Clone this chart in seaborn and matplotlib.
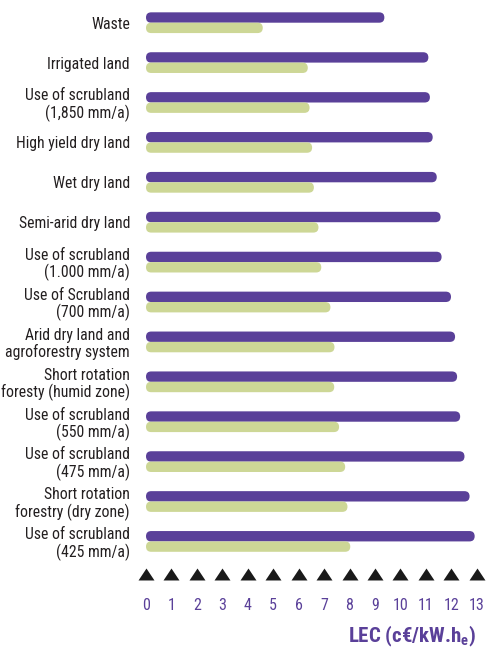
import matplotlib
matplotlib.use("Agg")
import matplotlib.pyplot as plt
from matplotlib.patches import FancyBboxPatch
from matplotlib.path import Path
import pandas as pd
import seaborn as sns

# Land-use scenarios, top to bottom
categories = [
    "Waste",
    "Irrigated land",
    "Use of scrubland\n(1,850 mm/a)",
    "High yield dry land",
    "Wet dry land",
    "Semi-arid dry land",
    "Use of scrubland\n(1.000 mm/a)",
    "Use of Scrubland\n(700 mm/a)",
    "Arid dry land and\nagroforestry system",
    "Short rotation\nforesty (humid zone)",
    "Use of scrubland\n(550 mm/a)",
    "Use of scrubland\n(475 mm/a)",
    "Short rotation\nforestry (dry zone)",
    "Use of scrubland\n(425 mm/a)",
]
# Levelised electricity cost, c€/kWh_e
lec_upper = [9.37, 11.10, 11.16, 11.27, 11.43, 11.58, 11.62,
             11.99, 12.15, 12.23, 12.35, 12.52, 12.72, 12.92]
lec_lower = [4.59, 6.36, 6.43, 6.53, 6.60, 6.78, 6.89,
             7.25, 7.41, 7.40, 7.59, 7.83, 7.92, 8.03]
series_names = ["upper", "lower"]
x_ticks = list(range(14))
axis_label = "LEC (c€/kW.h$_\\mathbf{e}$)"

PURPLE = "#5a4099"
GREEN = "#cdd796"
TEXT = "#231f20"

sns.set_theme(style="white")
plt.rcParams["font.family"] = ["Roboto Condensed", "DejaVu Sans"]
plt.rcParams["mathtext.fontset"] = "custom"
plt.rcParams["mathtext.rm"] = "Roboto Condensed"
plt.rcParams["mathtext.bf"] = "Roboto Condensed:bold"

df = pd.DataFrame({
    "category": categories * 2,
    "series": [series_names[0]] * len(categories) + [series_names[1]] * len(categories),
    "value": lec_upper + lec_lower,
})

W, H, DPI = 486, 648, 100
fig = plt.figure(figsize=(W / DPI, H / DPI), dpi=DPI)
left_px, right_px, top_px, bottom_px = 146, 476.7, 2.75, 589.3
ax = fig.add_axes([left_px / W, 1 - bottom_px / H,
                   (right_px - left_px) / W, (bottom_px - top_px) / H])

sns.barplot(data=df, y="category", x="value", hue="series",
            palette=[PURPLE, GREEN], width=0.52, dodge=True,
            legend=False, orient="h", ax=ax, saturation=1)

ax.set_xlim(0, 13)
ax.set_ylim(14.2, -0.5)

# Swap the square bars for bars with fully rounded ends
p0 = ax.transData.transform((0, 0))
p1 = ax.transData.transform((1, 1))
x_upp = 1 / abs(p1[0] - p0[0])
y_upp = 1 / abs(p1[1] - p0[1])
aspect = y_upp / x_upp
for rect in list(ax.patches):
    x, y = rect.get_xy()
    w, h = rect.get_width(), rect.get_height()
    fc = rect.get_facecolor()
    rect.remove()
    r = (h / 2) / aspect
    ax.add_patch(FancyBboxPatch((x, y), w, h,
                                boxstyle=f"round,pad=0,rounding_size={r}",
                                mutation_aspect=aspect, facecolor=fc,
                                edgecolor="none", linewidth=0))

# Row of triangle markers above the tick labels
tri = Path([(-1, -0.75), (1, -0.75), (0, 0.75), (-1, -0.75)],
           [Path.MOVETO, Path.LINETO, Path.LINETO, Path.CLOSEPOLY])
ax.scatter(x_ticks, [13.82] * len(x_ticks), marker=tri, s=11.5 ** 2,
           color="#1a1a1a", linewidths=0, clip_on=False, zorder=3)

ax.set_xticks(x_ticks)
ax.set_xticklabels([str(t) for t in x_ticks])
ax.tick_params(axis="x", length=0, pad=6.3, labelsize=11.5, labelcolor=PURPLE)
ax.tick_params(axis="y", length=0, pad=11.5, labelsize=11.3, labelcolor=TEXT)
for lab in ax.get_yticklabels():
    lab.set_linespacing(1.08)
    lab.set_horizontalalignment("right")
ax.set_xlabel("")
ax.set_ylabel("")
for s in ax.spines.values():
    s.set_visible(False)
ax.grid(False)

fig.text(476 / W, 6 / H, axis_label, ha="right", va="baseline",
         fontsize=15, fontweight="bold", color=PURPLE)

fig.savefig("out.png", dpi=DPI)
